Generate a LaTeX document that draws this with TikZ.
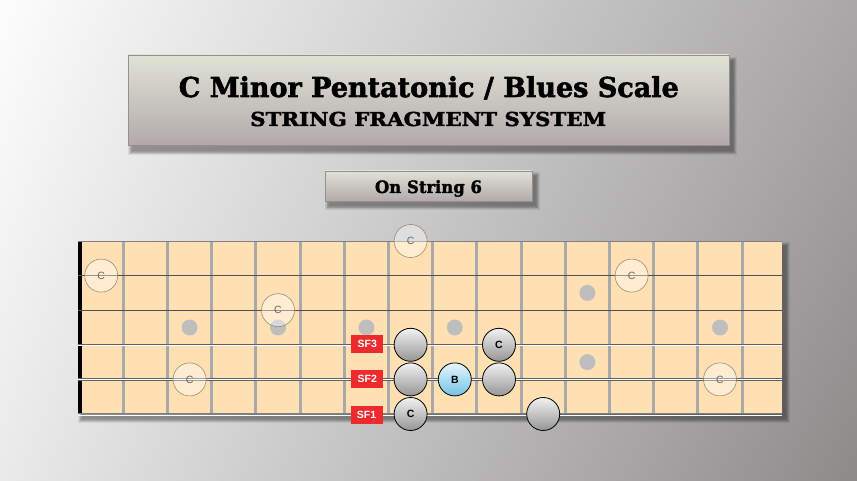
\documentclass[tikz,border=0pt]{standalone}
\usepackage{fontspec}
\setmainfont{Liberation Sans}
\newfontfamily\slabfont{DejaVu Serif}[BoldFeatures={FakeBold=2}]
\usepackage{graphicx}
\usetikzlibrary{shadings}
\definecolor{bgTL}{HTML}{FDFDFD}
\definecolor{bgTR}{HTML}{A9A7A7}
\definecolor{bgBL}{HTML}{EAEAEA}
\definecolor{bgBR}{HTML}{8D8A8A}
\definecolor{boxtop}{HTML}{E0E2D6}
\definecolor{boxbot}{HTML}{B2AAAA}
\definecolor{boxline}{HTML}{958F8F}
\definecolor{wood}{HTML}{FFE0B3}
\definecolor{fretc}{HTML}{A9A9A9}
\definecolor{inlay}{HTML}{BEBEBE}
\definecolor{sfred}{HTML}{EE2A2D}
\definecolor{notetop}{HTML}{F2F2F2}
\definecolor{notebot}{HTML}{959595}
\definecolor{bluetop}{HTML}{E6F5FB}
\definecolor{bluebot}{HTML}{72C3E6}
\definecolor{ghostline}{HTML}{8E7C66}
\definecolor{ghosttext}{HTML}{6E665C}
\definecolor{stringc}{HTML}{505050}
\tikzset{
  boxshade/.style={top color=boxtop, bottom color=boxbot, draw=boxline, line width=0.5pt},
  fretwire/.style={draw=fretc, line width=3pt},
  plainstring/.style={draw=stringc, line width=0.9pt},
  woundstring/.style={draw=stringc!90, line width=2.2pt},
  woundcore/.style={draw=white, line width=0.6pt},
  inlaydot/.style={circle, fill=inlay, minimum size=16pt, inner sep=0pt},
  ghost/.style={circle, minimum size=33pt, inner sep=0pt, draw=ghostline, line width=0.6pt,
    fill=white, fill opacity=0.4, draw opacity=0.85, text opacity=1, text=ghosttext,
    font=\fontsize{10.5}{10.5}\selectfont},
  note/.style={circle, minimum size=33pt, inner sep=0pt, draw=black, line width=0.8pt,
    top color=notetop, bottom color=notebot, font=\bfseries\fontsize{10.5}{10.5}\selectfont},
  bluenote/.style={note, top color=bluetop, bottom color=bluebot},
  sflab/.style={fill=sfred, text=white, minimum width=32pt, minimum height=18pt, inner sep=0pt,
    font=\bfseries\fontsize{10.5}{10.5}\selectfont},
}
\newcommand{\softshadow}[6]{%
  \foreach \i in {0,...,5}{%
    \fill[black, opacity=0.075] ({#1+#5-\i*0.8},{#2+#6-\i*0.8}) rectangle ({#3+#5+\i*0.8},{#4+#6+\i*0.8});
  }}
\begin{document}
\begin{tikzpicture}[x=1pt, y=-1pt]
\useasboundingbox (0,0) rectangle (857,481);
% background
\shade[upper left=bgTL, upper right=bgTR, lower left=bgBL, lower right=bgBR] (0,0) rectangle (857,481);

% title box
\softshadow{128}{55}{729}{145}{4}{6}
\shade[boxshade] (128,55) rectangle (729,145);
\node[anchor=base, inner sep=0pt] (title) at (428.8,97)
  {\resizebox{500pt}{\height}{\slabfont\bfseries\fontsize{27.4}{30}\selectfont C Minor Pentatonic / Blues Scale}};
\node[anchor=base, inner sep=0pt] (subtitle) at (428.2,126)
  {\resizebox{356pt}{\height}{\slabfont\bfseries\fontsize{19.2}{22}\selectfont STRING FRAGMENT SYSTEM}};

% string box
\softshadow{325}{171}{532}{201}{4}{5}
\shade[boxshade] (325,171) rectangle (532,201);
\node[anchor=base, inner sep=0pt] (strlabel) at (428.5,193)
  {\resizebox{107pt}{\height}{\slabfont\bfseries\fontsize{17}{20}\selectfont On String 6}};

% fretboard
\softshadow{78}{241}{782}{414}{4}{5}
\fill[wood] (78,241) rectangle (782,414);
\foreach \k in {1,...,15}{
  \draw[fretwire] ({123.3+(\k-1)*44.2},241) -- ({123.3+(\k-1)*44.2},414);
}
\fill[black] (78,241) rectangle (81.7,414);
% strings
\draw[draw=gray, line width=0.8pt] (78,241) -- (782,241);
\draw[plainstring] (78,275.6) -- (782,275.6);
\draw[plainstring] (78,310.2) -- (782,310.2);
\draw[woundstring] (78,344.8) -- (782,344.8);
\draw[woundcore] (78,344.8) -- (782,344.8);
\draw[woundstring] (78,379.4) -- (782,379.4);
\draw[woundcore] (78,379.4) -- (782,379.4);
\draw[draw=gray, line width=1.2pt] (78,413.4) -- (782,413.4);
\draw[draw=white, line width=0.8pt] (78,415) -- (782,415);

% inlays
\node[inlaydot] (d3) at ({410.6+(3-8)*44.2},327.5) {};
\node[inlaydot] (d5) at ({410.6+(5-8)*44.2},327.5) {};
\node[inlaydot] (d7) at ({410.6+(7-8)*44.2},327.5) {};
\node[inlaydot] (d9) at ({410.6+(9-8)*44.2},327.5) {};
\node[inlaydot] (d12a) at ({410.6+(12-8)*44.2},292.9) {};
\node[inlaydot] (d12b) at ({410.6+(12-8)*44.2},362.1) {};
\node[inlaydot] (d15) at ({410.6+(15-8)*44.2},327.5) {};

% ghost C notes
\node[ghost] (g1) at ({410.6+(8-8)*44.2},241) {C};
\node[ghost] (g2) at ({410.6+(1-8)*44.2},275.6) {C};
\node[ghost] (g3) at ({410.6+(13-8)*44.2},275.6) {C};
\node[ghost] (g4) at ({410.6+(5-8)*44.2},310.2) {C};
\node[ghost] (g5) at ({410.6+(3-8)*44.2},379.4) {C};
\node[ghost] (g6) at ({410.6+(15-8)*44.2},379.4) {C};

% SF labels
\node[sflab] (sf3) at (367.3,344.3) {SF3};
\node[sflab] (sf2) at (367.3,379.3) {SF2};
\node[sflab] (sf1) at (366.5,415) {SF1};

% scale notes
\node[note] (n48) at ({410.6+(8-8)*44.2},344.8) {};
\node[note] (n410) at ({410.6+(10-8)*44.2},344.8) {C};
\node[note] (n58) at ({410.6+(8-8)*44.2},379.4) {};
\node[bluenote] (n59) at ({410.6+(9-8)*44.2},379.4) {B};
\node[note] (n510) at ({410.6+(10-8)*44.2},379.4) {};
\node[note] (n68) at ({410.6+(8-8)*44.2},414) {C};
\node[note] (n611) at ({410.6+(11-8)*44.2},414) {};
\end{tikzpicture}
\end{document}
